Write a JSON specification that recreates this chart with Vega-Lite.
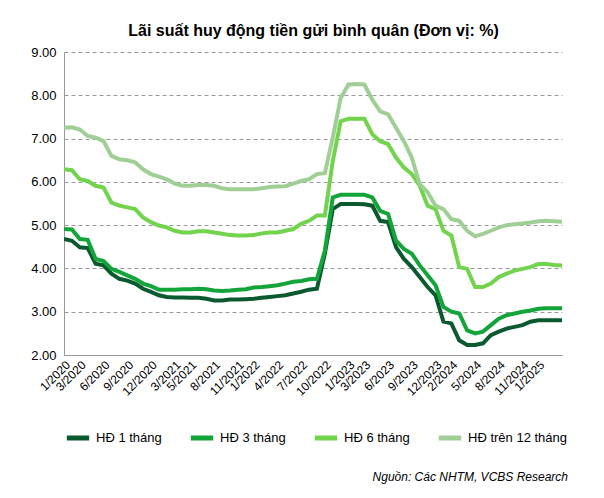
{
"$schema":"https://vega.github.io/schema/vega-lite/v6.json",
"width":498,"height":303,
"padding":{"left":30,"top":22,"right":12,"bottom":6},
"background":"white",
"config":{"font":"Liberation Sans","view":{"stroke":null}},
"title":{"text":"Nguồn: Các NHTM, VCBS Research","orient":"bottom","anchor":"end","fontStyle":"italic","fontWeight":"normal","fontSize":12,"color":"#000","offset":24},
"data":{"values":[
{"d":"1/2020","a":4.68,"b":4.91,"c":6.29,"e":7.25},
{"d":"2/2020","a":4.64,"b":4.9,"c":6.27,"e":7.26},
{"d":"3/2020","a":4.49,"b":4.68,"c":6.06,"e":7.21},
{"d":"4/2020","a":4.47,"b":4.66,"c":6.02,"e":7.06},
{"d":"5/2020","a":4.11,"b":4.22,"c":5.91,"e":7.02},
{"d":"6/2020","a":4.07,"b":4.17,"c":5.87,"e":6.94},
{"d":"7/2020","a":3.88,"b":3.99,"c":5.52,"e":6.6},
{"d":"8/2020","a":3.76,"b":3.92,"c":5.45,"e":6.52},
{"d":"9/2020","a":3.72,"b":3.84,"c":5.41,"e":6.5},
{"d":"10/2020","a":3.65,"b":3.76,"c":5.37,"e":6.45},
{"d":"11/2020","a":3.53,"b":3.65,"c":5.18,"e":6.29},
{"d":"12/2020","a":3.46,"b":3.59,"c":5.07,"e":6.18},
{"d":"1/2021","a":3.38,"b":3.51,"c":4.99,"e":6.12},
{"d":"2/2021","a":3.34,"b":3.51,"c":4.95,"e":6.06},
{"d":"3/2021","a":3.33,"b":3.51,"c":4.87,"e":5.96},
{"d":"4/2021","a":3.33,"b":3.52,"c":4.83,"e":5.91},
{"d":"5/2021","a":3.32,"b":3.52,"c":4.83,"e":5.91},
{"d":"6/2021","a":3.32,"b":3.53,"c":4.86,"e":5.93},
{"d":"7/2021","a":3.3,"b":3.52,"c":4.86,"e":5.93},
{"d":"8/2021","a":3.26,"b":3.49,"c":4.83,"e":5.91},
{"d":"9/2021","a":3.26,"b":3.48,"c":4.8,"e":5.85},
{"d":"10/2021","a":3.28,"b":3.49,"c":4.77,"e":5.83},
{"d":"11/2021","a":3.28,"b":3.51,"c":4.76,"e":5.83},
{"d":"12/2021","a":3.29,"b":3.52,"c":4.76,"e":5.83},
{"d":"1/2022","a":3.3,"b":3.56,"c":4.77,"e":5.83},
{"d":"2/2022","a":3.32,"b":3.57,"c":4.81,"e":5.85},
{"d":"3/2022","a":3.34,"b":3.59,"c":4.83,"e":5.88},
{"d":"4/2022","a":3.36,"b":3.61,"c":4.83,"e":5.89},
{"d":"5/2022","a":3.38,"b":3.65,"c":4.87,"e":5.9},
{"d":"6/2022","a":3.42,"b":3.69,"c":4.91,"e":5.96},
{"d":"7/2022","a":3.46,"b":3.71,"c":5.03,"e":6.02},
{"d":"8/2022","a":3.51,"b":3.75,"c":5.1,"e":6.06},
{"d":"9/2022","a":3.53,"b":3.76,"c":5.22,"e":6.18},
{"d":"10/2022","a":4.34,"b":4.41,"c":5.22,"e":6.2},
{"d":"11/2022","a":5.37,"b":5.64,"c":6.48,"e":7.02},
{"d":"12/2022","a":5.49,"b":5.7,"c":7.4,"e":7.94},
{"d":"1/2023","a":5.49,"b":5.7,"c":7.46,"e":8.25},
{"d":"2/2023","a":5.49,"b":5.7,"c":7.46,"e":8.26},
{"d":"3/2023","a":5.48,"b":5.7,"c":7.46,"e":8.25},
{"d":"4/2023","a":5.45,"b":5.64,"c":7.1,"e":7.9},
{"d":"5/2023","a":5.1,"b":5.33,"c":6.94,"e":7.63},
{"d":"6/2023","a":5.07,"b":5.26,"c":6.87,"e":7.56},
{"d":"7/2023","a":4.49,"b":4.64,"c":6.56,"e":7.25},
{"d":"8/2023","a":4.22,"b":4.45,"c":6.33,"e":6.94},
{"d":"9/2023","a":4.03,"b":4.34,"c":6.18,"e":6.56},
{"d":"10/2023","a":3.8,"b":4.07,"c":5.91,"e":5.95},
{"d":"11/2023","a":3.57,"b":3.84,"c":5.45,"e":5.76},
{"d":"12/2023","a":3.38,"b":3.61,"c":5.37,"e":5.45},
{"d":"1/2024","a":2.77,"b":3.11,"c":4.87,"e":5.37},
{"d":"2/2024","a":2.73,"b":3.0,"c":4.76,"e":5.14},
{"d":"3/2024","a":2.34,"b":2.96,"c":4.03,"e":5.1},
{"d":"4/2024","a":2.23,"b":2.57,"c":3.99,"e":4.87},
{"d":"5/2024","a":2.23,"b":2.5,"c":3.57,"e":4.74},
{"d":"6/2024","a":2.27,"b":2.54,"c":3.57,"e":4.8},
{"d":"7/2024","a":2.46,"b":2.69,"c":3.65,"e":4.87},
{"d":"8/2024","a":2.54,"b":2.84,"c":3.8,"e":4.95},
{"d":"9/2024","a":2.61,"b":2.92,"c":3.88,"e":5.0},
{"d":"10/2024","a":2.65,"b":2.96,"c":3.95,"e":5.02},
{"d":"11/2024","a":2.69,"b":3.0,"c":3.99,"e":5.04},
{"d":"12/2024","a":2.77,"b":3.03,"c":4.03,"e":5.06},
{"d":"1/2025","a":2.8,"b":3.07,"c":4.1,"e":5.09},
{"d":"2/2025","a":2.8,"b":3.08,"c":4.1,"e":5.1},
{"d":"3/2025","a":2.8,"b":3.08,"c":4.08,"e":5.09},
{"d":"4/2025","a":2.8,"b":3.08,"c":4.07,"e":5.08}
]},
"transform":[{"fold":["a","b","c","e"],"as":["k","v"]}],
"resolve":{"axis":{"x":"independent"}},
"layer":[
{"mark":{"type":"line","strokeWidth":4,"interpolate":"linear","clip":true},
"encoding":{
"x":{"field":"d","type":"ordinal","sort":null,"scale":{"type":"point","padding":0},
"axis":{"values":["1/2020","3/2020","6/2020","9/2020","12/2020","3/2021","5/2021","8/2021","11/2021","1/2022","4/2022","7/2022","10/2022","1/2023","3/2023","6/2023","9/2023","12/2023","2/2024","5/2024","8/2024","11/2024","1/2025"],
"labelAngle":-45,"labelFontSize":12,"labelColor":"#000","ticks":false,"domainColor":"#999","title":null,"labelPadding":4,"labelFont":"Liberation Sans"}},
"y":{"field":"v","type":"quantitative","scale":{"domain":[2,9]},
"axis":{"values":[2,3,4,5,6,7,8,9],"format":".2f","labelFontSize":13,"labelColor":"#000","ticks":false,"domainColor":"#999","gridColor":"#999","gridDash":[4,3],"title":null,"labelPadding":8}},
"color":{"field":"k","type":"nominal",
"scale":{"domain":["a","b","c","e"],"range":["#0b5a2f","#14a53a","#71d44c","#9fcf94"]},
"legend":{"orient":"bottom","direction":"horizontal","title":null,"symbolType":"stroke","symbolStrokeWidth":5,"symbolSize":500,"labelFontSize":13,"labelColor":"#000","columnPadding":18,"offset":26,
"labelExpr":"datum.value=='a'?'HĐ 1 tháng':datum.value=='b'?'HĐ 3 tháng':datum.value=='c'?'HĐ 6 tháng':'HĐ trên 12 tháng'"}}}},
{"mark":{"type":"line","opacity":0},
"encoding":{
"x":{"field":"d","type":"ordinal","sort":null,"axis":{"orient":"top","labels":false,"ticks":false,"domain":false,"title":"Lãi suất huy động tiền gửi bình quân (Đơn vị: %)","titleFontSize":16,"titleFontWeight":"bold","titleColor":"#000","titlePadding":14}},
"y":{"field":"v","type":"quantitative"},
"detail":{"field":"k"}}}
]
}
